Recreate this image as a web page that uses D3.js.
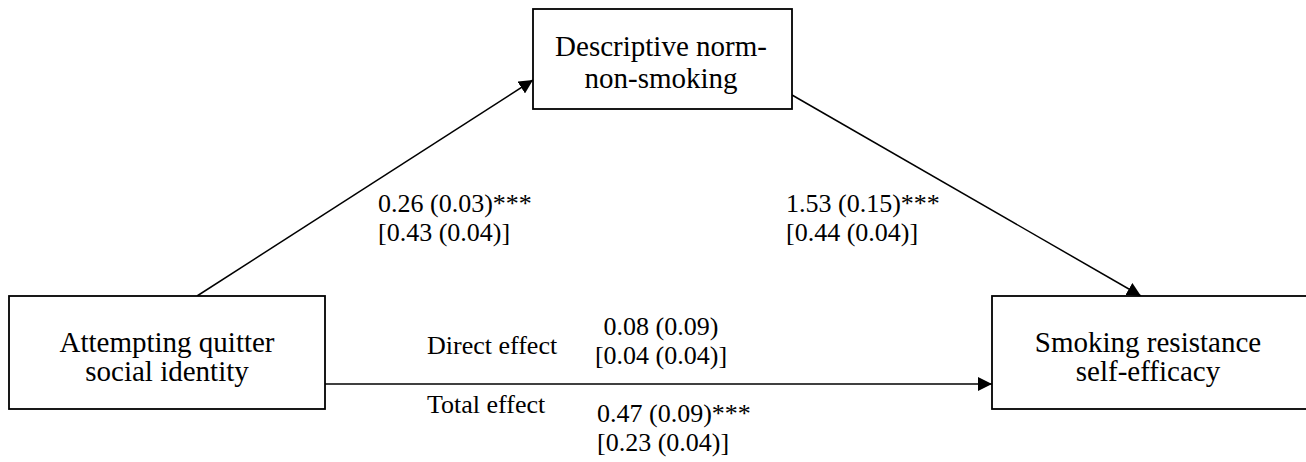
<!DOCTYPE html>
<html>
<head>
<meta charset="utf-8">
<script src="https://cdn.jsdelivr.net/npm/d3@7"></script>
<style>
  html, body { margin: 0; padding: 0; background: #fff; }
  svg { display: block; }
</style>
</head>
<body>
<svg id="chart" width="1306" height="462"></svg>
<script>
// Variables in the mediation model
const nodeIds    = ["x", "m", "y"];
const nodeLines  = [
  ["Attempting quitter", "social identity"],
  ["Descriptive norm-", "non-smoking"],
  ["Smoking resistance", "self-efficacy"]
];

// Path coefficients: unstandardised b (SE) with significance stars, and [standardised beta (SE)]
const pathIds   = ["a", "b", "c1", "c"];
const pathB     = [0.26, 1.53, 0.08, 0.47];
const pathSE    = [0.03, 0.15, 0.09, 0.09];
const pathStars = ["***", "***", "", "***"];
const pathBeta  = [0.43, 0.44, 0.04, 0.23];
const pathBetaSE= [0.04, 0.04, 0.04, 0.04];
const effectNames = ["Direct effect", "Total effect"];

const FONT = "'Liberation Serif', 'Times New Roman', Times, serif";

const svg = d3.select("#chart");
const fmt = d3.format(".2f");

// Layout of the three boxes (pixel space)
const box = {
  x: { x0: 9,   x1: 325,  y0: 296, y1: 409 },
  m: { x0: 533, x1: 792,  y0: 9,   y1: 109 },
  y: { x0: 992, x1: 1312, y0: 296, y1: 409 }
};
const boxText = {
  x: { cx: 167, base: [352, 381] },
  m: { cx: 661, base: [56, 88] },
  y: { cx: 1148, base: [352, 381] }
};

// Arrowhead marker
svg.append("defs").append("marker")
  .attr("id", "arrow")
  .attr("markerUnits", "userSpaceOnUse")
  .attr("viewBox", "0 0 14 14")
  .attr("refX", 14).attr("refY", 7)
  .attr("markerWidth", 14).attr("markerHeight", 14)
  .attr("orient", "auto")
  .append("path")
  .attr("d", "M0,0 L14,7 L0,14 Z")
  .attr("fill", "#000");

// Arrows
const arrows = [
  { from: [197, 296], to: [533, 80] },   // a path
  { from: [792, 95],  to: [1141, 296] }, // b path
  { from: [325, 384], to: [992, 384] }   // c' / c path
];
svg.selectAll("line.path")
  .data(arrows)
  .join("line")
  .attr("class", "path")
  .attr("x1", d => d.from[0]).attr("y1", d => d.from[1])
  .attr("x2", d => d.to[0]).attr("y2", d => d.to[1])
  .attr("stroke", "#000")
  .attr("stroke-width", 1.5)
  .attr("marker-end", "url(#arrow)");

// Boxes
const g = svg.selectAll("g.node")
  .data(nodeIds)
  .join("g")
  .attr("class", "node");
g.append("rect")
  .attr("x", d => box[d].x0).attr("y", d => box[d].y0)
  .attr("width", d => box[d].x1 - box[d].x0)
  .attr("height", d => box[d].y1 - box[d].y0)
  .attr("fill", "#fff")
  .attr("stroke", "#000")
  .attr("stroke-width", 1.8);
g.each(function(d, i) {
  const t = boxText[d];
  d3.select(this).selectAll("text")
    .data(nodeLines[i])
    .join("text")
    .attr("x", t.cx)
    .attr("y", (_, j) => t.base[j])
    .attr("text-anchor", "middle")
    .attr("font-family", FONT)
    .attr("font-size", 29)
    .attr("fill", "#000")
    .text(s => s);
});

// Coefficient labels
const coefLines = pathIds.map((_, i) => [
  `${fmt(pathB[i])} (${fmt(pathSE[i])})${pathStars[i]}`,
  `[${fmt(pathBeta[i])} (${fmt(pathBetaSE[i])})]`
]);
const coefPos = [
  { x: 378, base: [212, 241], anchor: "start" },
  { x: 786, base: [212, 241], anchor: "start" },
  { x: 661, base: [335, 364], anchor: "middle" },
  { x: 597, base: [422, 451], anchor: "start" }
];
coefLines.forEach((lines, i) => {
  svg.append("g").selectAll("text")
    .data(lines)
    .join("text")
    .attr("x", coefPos[i].x)
    .attr("y", (_, j) => coefPos[i].base[j])
    .attr("text-anchor", coefPos[i].anchor)
    .attr("font-family", FONT)
    .attr("font-size", 26)
    .attr("fill", "#000")
    .text(s => s);
});

// Effect names
const effectPos = [{ x: 427, base: 354 }, { x: 427, base: 413 }];
svg.selectAll("text.effect")
  .data(effectNames)
  .join("text")
  .attr("class", "effect")
  .attr("x", (_, i) => effectPos[i].x)
  .attr("y", (_, i) => effectPos[i].base)
  .attr("font-family", FONT)
  .attr("font-size", 26)
  .attr("fill", "#000")
  .text(d => d);
</script>
</body>
</html>
